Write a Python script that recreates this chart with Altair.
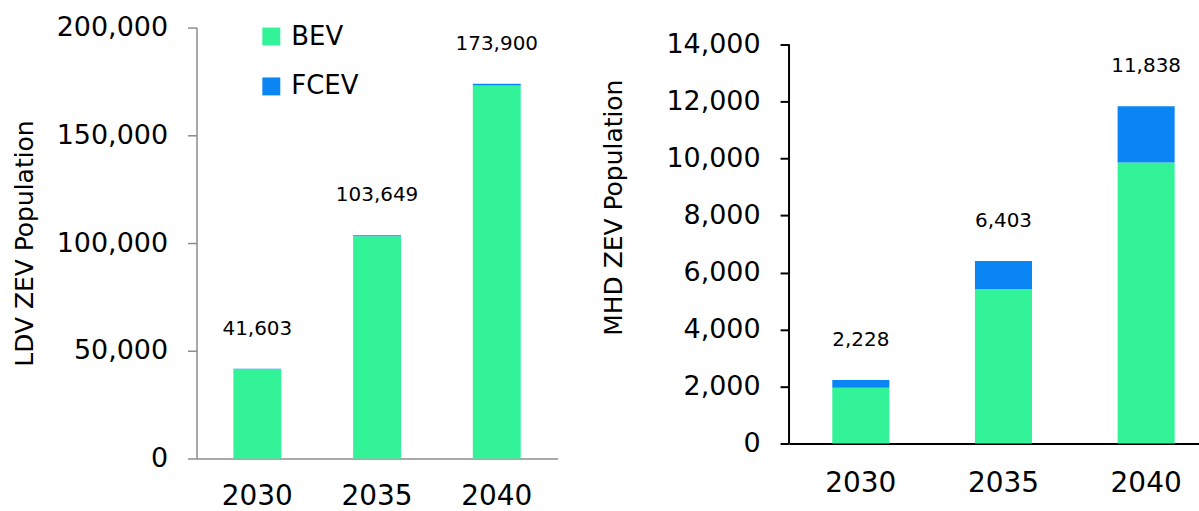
import altair as alt
import pandas as pd

years = ["2030", "2035", "2040"]
types = ["BEV", "FCEV"]

ldv_bev = [41543, 103200, 173100]
ldv_fcev = [60, 449, 800]
ldv_total = [41603, 103649, 173900]

mhd_bev = [1960, 5425, 9858]
mhd_fcev = [268, 978, 1980]
mhd_total = [2228, 6403, 11838]

FONT = "DejaVu Sans"
GREEN = "#33F399"
BLUE = "#0A86F4"


def stack_df(bev, fcev):
    rows = []
    for y, b, f in zip(years, bev, fcev):
        rows.append({"year": y, "type": "BEV", "value": b, "ord": 0})
        rows.append({"year": y, "type": "FCEV", "value": f, "ord": 1})
    return pd.DataFrame(rows)


def total_df(tot):
    return pd.DataFrame({"year": years, "value": tot})


color_scale = alt.Scale(domain=types, range=[GREEN, BLUE])


def panel(bev, fcev, tot, ymax, scale_max, step, ytitle, axis_color, domain_width,
          width, height, p_outer, align, legend, title_x, title_y, xlab_pad,
          draw_domain):
    x_enc = alt.X(
        "year:N", title=None,
        scale=alt.Scale(paddingInner=0.6, paddingOuter=p_outer, align=align),
        axis=alt.Axis(labelAngle=0, ticks=False, tickSize=0, domainColor=axis_color,
                      domainWidth=domain_width, labelFontSize=28, labelFont=FONT,
                      labelColor="#000", labelPadding=xlab_pad),
    )
    y_axis = alt.Axis(values=list(range(0, ymax + 1, step)), format=",d", grid=False,
                      domain=draw_domain,
                      domainColor=axis_color, domainWidth=domain_width,
                      tickColor=axis_color, tickWidth=domain_width, tickSize=9,
                      labelPadding=20, labelFontSize=27, labelFont=FONT, labelColor="#000",
                      titleFontSize=25, titleFont=FONT, titleFontWeight="normal",
                      titleColor="#000", titleX=title_x, titleY=title_y)
    y_scale = alt.Scale(domain=[0, scale_max], nice=False)
    bars = alt.Chart(stack_df(bev, fcev)).mark_bar().encode(
        x=x_enc,
        y=alt.Y("value:Q", stack="zero", title=ytitle, scale=y_scale, axis=y_axis),
        color=alt.Color("type:N", scale=color_scale, legend=legend),
        order=alt.Order("ord:Q", sort="ascending"),
    )
    text = alt.Chart(total_df(tot)).mark_text(
        dy=-40, fontSize=20, font=FONT, color="#000"
    ).encode(
        x=alt.X("year:N"),
        y=alt.Y("value:Q", title=ytitle, scale=y_scale, axis=y_axis),
        text=alt.Text("value:Q", format=",d"),
    )
    layers = [bars, text]
    if not draw_domain:
        axis_line = alt.Chart(pd.DataFrame({"a": [0]})).mark_rule(
            color=axis_color, strokeWidth=domain_width
        ).encode(x=alt.value(0), y=alt.datum(0), y2=alt.datum(ymax))
        layers.append(axis_line)
    return alt.layer(*layers).properties(width=width, height=height)


left_legend = alt.Legend(title=None, orient="none", legendX=62, legendY=-4,
                         direction="vertical", symbolType="square", symbolSize=324,
                         symbolStrokeWidth=0, labelFontSize=26, labelFont=FONT,
                         labelColor="#000", rowPadding=24, labelOffset=7)
right_legend = alt.Legend(title=None, orient="none", legendX=10, legendY=62,
                          direction="horizontal", symbolType="square", symbolSize=289,
                          symbolStrokeWidth=0, labelFontSize=26, labelFont=FONT,
                          labelColor="#000", columnPadding=11, labelOffset=8)

left = panel(ldv_bev, ldv_fcev, ldv_total, 200000, 200000, 50000, "LDV ZEV Population",
             "#8C8C8C", 1.5, 362, 432, 0.308, 0.5, left_legend, -159, 216, 24, True)
right = panel(mhd_bev, mhd_fcev, mhd_total, 14000, 14595, 2000, "MHD ZEV Population",
              "#000000", 2, 411, 417, 0.237, 0.64, right_legend, -163, 180, 26, False)

chart = alt.hconcat(left, right, spacing=43).properties(
    padding={"left": 12, "top": 13, "right": 0, "bottom": 0}
).configure(font=FONT).configure_view(strokeWidth=0, stroke="transparent")

chart.save("out.html", embed_options={"renderer": "svg", "actions": False})
